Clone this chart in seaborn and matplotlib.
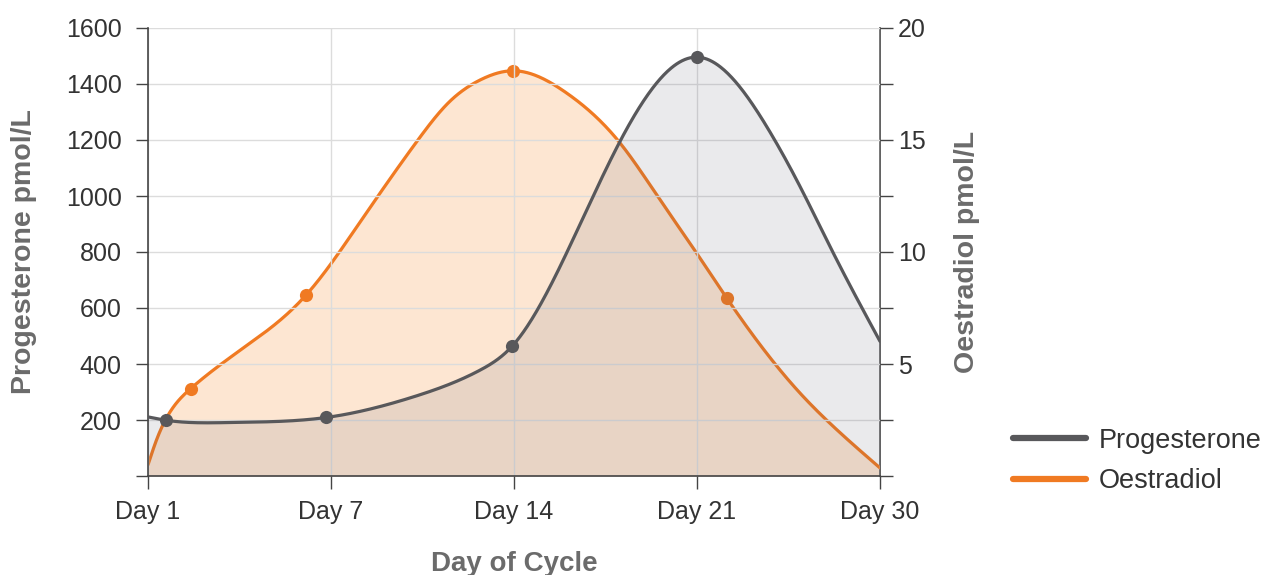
import numpy as np
import matplotlib
matplotlib.use("Agg")
import matplotlib.pyplot as plt
from matplotlib.lines import Line2D
import seaborn as sns

# ---------------- data ----------------
day_labels = ["Day 1", "Day 7", "Day 14", "Day 21", "Day 30"]
day_pos = [0, 1, 2, 3, 4]

# Progesterone (left axis, pmol/L) - points along the curve, marked ones flagged
prog_x = [0.0, 0.100, 0.448, 0.974, 1.457, 1.820, 1.989, 2.287, 2.580, 2.725, 3.000, 3.380, 3.563, 3.745, 4.0]
prog_y = [211, 199, 191, 209, 284, 380, 463, 796, 1196, 1356, 1496, 1249, 1034, 796, 481]
prog_marked = [False, True, False, True, False, False, True, False, False, False, True, False, False, False, False]

# Oestradiol (right axis, pmol/L)
oest_x = [0.0, 0.047, 0.233, 0.546, 0.865, 1.160, 1.475, 1.640, 1.820, 1.995, 2.287, 2.580, 2.798, 2.998, 3.162, 3.563, 3.745, 4.0]
oest_y = [0.5, 1.62, 3.90, 5.86, 8.09, 11.35, 15.0, 16.65, 17.7, 18.09, 17.1, 14.86, 12.33, 9.95, 7.95, 3.70, 2.21, 0.36]
oest_marked = [False, False, True, False, True, False, False, False, False, True, False, False, False, False, True, False, False, False]

left_ticks = [0, 200, 400, 600, 800, 1000, 1200, 1400, 1600]
right_ticks = [0, 2.5, 5, 7.5, 10, 12.5, 15, 17.5, 20]


# ---------------- natural cubic spline through the points ----------------
def spline(x, y, xs):
    x = np.asarray(x, float); y = np.asarray(y, float)
    n = len(x)
    h = np.diff(x)
    A = np.zeros((n, n)); b = np.zeros(n)
    A[0, 0] = 1.0; A[-1, -1] = 1.0
    for i in range(1, n - 1):
        A[i, i - 1] = h[i - 1]
        A[i, i] = 2 * (h[i - 1] + h[i])
        A[i, i + 1] = h[i]
        b[i] = 6 * ((y[i + 1] - y[i]) / h[i] - (y[i] - y[i - 1]) / h[i - 1])
    M = np.linalg.solve(A, b)
    xs = np.asarray(xs, float)
    k = np.clip(np.searchsorted(x, xs, side="right") - 1, 0, n - 2)
    hk = h[k]
    a = (x[k + 1] - xs) / hk
    c = (xs - x[k]) / hk
    return (a * y[k] + c * y[k + 1]
            + ((a**3 - a) * M[k] + (c**3 - c) * M[k + 1]) * hk**2 / 6.0)


xs = np.linspace(0, 4, 800)
prog_curve = spline(prog_x, prog_y, xs)
oest_curve = spline(oest_x, oest_y, xs)

# ---------------- style ----------------
sns.set_theme(style="white")
plt.rcParams["font.family"] = ["Liberation Sans", "DejaVu Sans"]

GRAY = "#58585b"
ORANGE = "#f07a22"
SPINE = "#444444"
TICKTXT = "#333333"
LABEL = "#6b6b6b"
GRID = "#dcdcdc"

W, H = 1275, 575
fig = plt.figure(figsize=(W / 100, H / 100), dpi=100)
fig.patch.set_facecolor("white")
ax = fig.add_axes([148 / W, 1 - 476 / H, (880 - 148) / W, (476 - 28) / H])
ax2 = ax.twinx()
ax2.set_zorder(1)
ax.set_zorder(2)
ax.patch.set_visible(False)
ax2.patch.set_visible(False)

# Oestradiol on right axis (drawn underneath)
ax2.fill_between(xs, 0, oest_curve, color="#fde6d2", linewidth=0, zorder=1)
sns.lineplot(x=xs, y=oest_curve, ax=ax2, color=ORANGE, linewidth=2.3, zorder=3, legend=False)
om = [i for i, f in enumerate(oest_marked) if f]
sns.scatterplot(x=[oest_x[i] for i in om], y=[oest_y[i] for i in om], ax=ax2,
                color=ORANGE, s=90, linewidth=0, zorder=4, legend=False)

# Progesterone on left axis (drawn on top)
ax.fill_between(xs, 0, prog_curve, color="#555569", alpha=0.12, linewidth=0, zorder=1)
sns.lineplot(x=xs, y=prog_curve, ax=ax, color=GRAY, linewidth=2.3, zorder=3, legend=False)
pm = [i for i, f in enumerate(prog_marked) if f]
sns.scatterplot(x=[prog_x[i] for i in pm], y=[prog_y[i] for i in pm], ax=ax,
                color=GRAY, s=90, linewidth=0, zorder=4, legend=False)

# axes limits and ticks
ax.set_xlim(0, 4)
ax.set_ylim(0, 1600)
ax2.set_ylim(0, 20)
ax.set_xticks(day_pos)
ax.set_xticklabels(day_labels)
ax.set_yticks(left_ticks)
ax.set_yticklabels(["" if v == 0 else str(v) for v in left_ticks])
ax2.set_yticks(right_ticks)
ax2.set_yticklabels(["" if (v == 0 or v % 5) else str(int(v)) for v in right_ticks])

ax.grid(True, axis="both", color=GRID, linewidth=1.0, zorder=0.5)
ax.set_axisbelow(True)
ax2.grid(False)

for s in ["top", "right"]:
    ax.spines[s].set_visible(False)
for s in ["left", "bottom"]:
    ax.spines[s].set_color(SPINE)
    ax.spines[s].set_linewidth(1.2)
for s in ["top", "left", "bottom"]:
    ax2.spines[s].set_visible(False)
ax2.spines["right"].set_color(SPINE)
ax2.spines["right"].set_linewidth(1.2)

ax.tick_params(axis="x", direction="out", length=9, width=1, color=SPINE, pad=8,
               labelsize=18, labelcolor=TICKTXT, bottom=True)
ax.tick_params(axis="y", direction="out", length=9, width=1, color=SPINE, pad=10,
               labelsize=18, labelcolor=TICKTXT, left=True)
ax2.tick_params(axis="y", direction="out", length=9, width=1, color=SPINE, pad=4,
                labelsize=18, labelcolor=TICKTXT, right=True)

ax.set_xlabel("Day of Cycle", fontsize=20, fontweight="bold", color=LABEL)
ax.set_ylabel("Progesterone pmol/L", fontsize=20.5, fontweight="bold", color=LABEL)
ax2.set_ylabel("Oestradiol pmol/L", fontsize=20.5, fontweight="bold", color=LABEL)
ax.xaxis.set_label_coords(0.5, -0.167)
ax.yaxis.set_label_coords(-0.152, 0.5)
ax2.yaxis.set_label_coords(1.101, 0.5)

# legend
handles = [Line2D([0], [0], color=GRAY, lw=4.5, solid_capstyle="round"),
           Line2D([0], [0], color=ORANGE, lw=4.5, solid_capstyle="round")]
fig.legend(handles, ["Progesterone", "Oestradiol"], loc="center left",
           bbox_to_anchor=(1013 / W, 1 - 461 / H), frameon=False, fontsize=19.5,
           handlelength=2.7, handletextpad=0.45, labelspacing=0.52,
           borderpad=0, borderaxespad=0, labelcolor=TICKTXT)

fig.savefig("out.png", dpi=100, facecolor="white")
